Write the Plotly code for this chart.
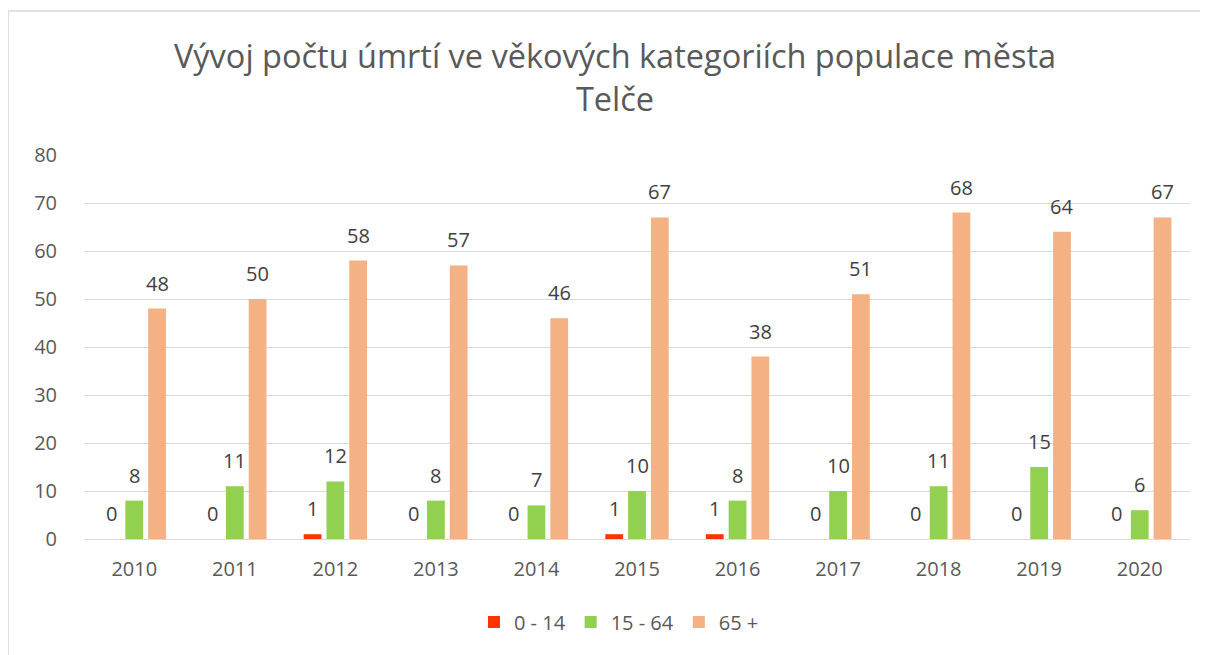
import plotly.graph_objects as go

years = ["2010", "2011", "2012", "2013", "2014", "2015", "2016", "2017", "2018", "2019", "2020"]
age_0_14 = [0, 0, 1, 0, 0, 1, 1, 0, 0, 0, 0]
age_15_64 = [8, 11, 12, 8, 7, 10, 8, 10, 11, 15, 6]
age_65 = [48, 50, 58, 57, 46, 67, 38, 51, 68, 64, 67]
series_names = ["0 - 14", "15 - 64", "65 +"]
colors = ["#FF3300", "#92D050", "#F4B183"]

FONT = "Open Sans"
W, H = 1208, 655
ML, MR = 76, 26
BARGAP = 0.32
cat_px = (W - ML - MR) / len(years)
slot_px = cat_px * (1 - BARGAP) / len(series_names)

fig = go.Figure()
annotations = []
for i, (name, vals, col) in enumerate(zip(series_names, [age_0_14, age_15_64, age_65], colors)):
    fig.add_trace(go.Bar(
        x=years, y=vals, name=name, marker_color=col,
        marker_line_width=0,
    ))
    for j, v in enumerate(vals):
        annotations.append(dict(
            x=j, y=v, xref="x", yref="y", text=str(v), showarrow=False,
            xanchor="center", yanchor="bottom",
            xshift=(i - 1) * slot_px, yshift=10,
            font=dict(family=FONT, size=20, color="#404040"),
        ))

fig.update_layout(
    width=W, height=H,
    paper_bgcolor="white", plot_bgcolor="white",
    margin=dict(l=ML, r=MR, t=147, b=124, autoexpand=False),
    bargap=BARGAP, bargroupgap=0.22,
    title=dict(text="Vývoj počtu úmrtí ve věkových kategoriích populace města<br>Telče",
               x=0.5025, xanchor="center", y=0.908, yanchor="top",
               font=dict(family=FONT, size=32.5, color="#595959")),
    xaxis=dict(type="category", categoryorder="array", categoryarray=years,
               range=[-0.5, len(years) - 0.5],
               showgrid=False, showline=True, linecolor="#D9D9D9", linewidth=1,
               tickfont=dict(family=FONT, size=20, color="#595959"), ticks="",
               ticklabelstandoff=12),
    yaxis=dict(range=[0, 80], dtick=10, showgrid=True, gridcolor="#D9D9D9", gridwidth=1,
               zeroline=False, showline=False,
               tickfont=dict(family=FONT, size=20, color="#595959"), ticklabelstandoff=26),
    legend=dict(orientation="h", x=0.4837, xanchor="center", y=-0.216, yanchor="middle",
                font=dict(family=FONT, size=20, color="#595959"), traceorder="normal"),
    annotations=annotations,
    shapes=[dict(type="rect", xref="paper", yref="paper", x0=-0.0687, x1=1.0226, y0=-0.315, y1=1.375,
                 line=dict(color="#D9D9D9", width=1.5))],
)
fig.write_html("out.html")
